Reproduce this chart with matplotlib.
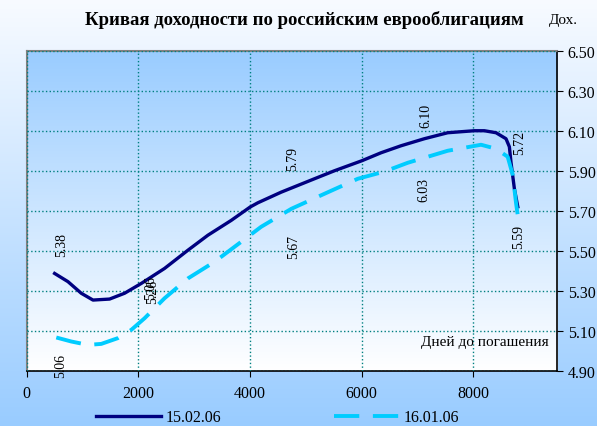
import numpy as np
import matplotlib
matplotlib.use("Agg")
import matplotlib.pyplot as plt
from matplotlib.colors import LinearSegmentedColormap

plt.rcParams['font.family'] = ['Liberation Serif', 'DejaVu Serif']

# 15.02.06
days_feb = [503, 742, 980, 1190, 1487, 1755, 2054, 2471, 2889, 3247, 3664, 4004,
            4141, 4558, 5154, 5512, 6002, 6347, 6705, 7121, 7540, 8016, 8195,
            8404, 8583, 8643, 8673, 8733, 8794]
yld_feb = [5.387, 5.346, 5.288, 5.254, 5.259, 5.288, 5.337, 5.412, 5.503, 5.578,
           5.652, 5.719, 5.74, 5.793, 5.86, 5.90, 5.95, 5.99, 6.025, 6.06, 6.09,
           6.10, 6.10, 6.09, 6.06, 6.02, 5.94, 5.81, 5.72]
# 16.01.06
days_jan = [533, 801, 1100, 1338, 1637, 1875, 2113, 2471, 2889, 3365, 3843, 4200,
            4741, 5333, 5930, 6406, 6825, 7540, 8136, 8404, 8613, 8703, 8762, 8822]
yld_jan = [5.067, 5.047, 5.03, 5.035, 5.064, 5.105, 5.163, 5.263, 5.362, 5.445,
           5.545, 5.62, 5.71, 5.785, 5.86, 5.896, 5.94, 6.00, 6.03, 6.01, 5.97,
           5.88, 5.74, 5.62]

label_text = ["5.38", "5.06", "5.26", "5.06", "5.79", "5.67", "6.10", "6.03", "5.72", "5.59"]
label_pos = [(623, 5.536), (605, 4.93), (2250, 5.30), (2215, 5.32), (4755, 5.964),
             (4773, 5.526), (7152, 6.178), (7116, 5.81), (8834, 6.044), (8816, 5.576)]

xticks = [0, 2000, 4000, 6000, 8000]
yticks = [4.90, 5.10, 5.30, 5.50, 5.70, 5.90, 6.10, 6.30, 6.50]

fig = plt.figure(figsize=(5.97, 4.27), dpi=100)

# figure background gradient
bg = fig.add_axes([0, 0, 1, 1], zorder=-10)
bg.axis('off')
grad = np.linspace(0, 1, 256).reshape(-1, 1)
fig_cmap = LinearSegmentedColormap.from_list('f', ['#F8FBFF', '#99CCFF'])
bg.imshow(grad, aspect='auto', cmap=fig_cmap, extent=[0, 1, 0, 1], origin='upper')

ax = fig.add_axes([0.0444, 0.129, 0.889, 0.75])
ax_cmap = LinearSegmentedColormap.from_list('a', ['#99CCFF', '#FFFFFF'])
ax.imshow(grad, aspect='auto', cmap=ax_cmap, extent=[0, 9500, 4.9, 6.5],
          origin='upper', zorder=0)

ax.plot(days_feb, yld_feb, color='#000080', lw=2.4, label='15.02.06', zorder=3,
        solid_joinstyle='round')
ax.plot(days_jan, yld_jan, color='#00CCFF', lw=2.8, dashes=(6.5, 3.5),
        label='16.01.06', zorder=3)

for t, (x, y) in zip(label_text, label_pos):
    ax.text(x, y, t, rotation=90, ha='center', va='center', fontsize=10, zorder=4)

ax.set_xlim(0, 9500)
ax.set_ylim(4.9, 6.5)
ax.set_xticks(xticks)
ax.set_yticks(yticks)
ax.set_yticklabels([f"{v:.2f}" for v in yticks])
ax.yaxis.tick_right()
ax.tick_params(axis='both', labelsize=11.5, direction='out', length=4, color='black')
ax.tick_params(axis='x', pad=6)
ax.grid(True, color='#008080', linestyle=':', linewidth=1.0, zorder=1)
ax.set_axisbelow(False)
for s in ['top', 'left']:
    ax.spines[s].set_color('#808080')
    ax.spines[s].set_linewidth(1.5)
for s in ['bottom', 'right']:
    ax.spines[s].set_color('black')
    ax.spines[s].set_linewidth(1.2)

ax.text(9350, 5.045, 'Дней до погашения', ha='right', va='center', fontsize=11, zorder=4)

fig.text(0.51, 0.952, 'Кривая доходности по российским еврооблигациям',
         ha='center', va='center', fontsize=13.5, fontweight='bold')
fig.text(0.92, 0.952, 'Дох.', ha='left', va='center', fontsize=11)

fig.legend(loc='center', bbox_to_anchor=(0.465, 0.02), ncol=2, frameon=False,
           fontsize=11.5, handlelength=4.1, columnspacing=7.0, handletextpad=0.3)

fig.savefig('out.png', dpi=100)
